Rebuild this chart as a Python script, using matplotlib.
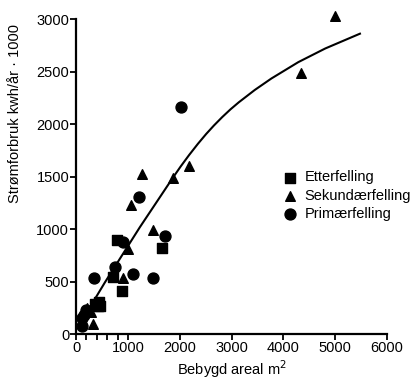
import matplotlib
matplotlib.use('Agg')
import matplotlib.pyplot as plt

plt.rcParams['font.family'] = ['Liberation Sans', 'DejaVu Sans']

# data
etter_x = [780, 1660, 715, 890, 440, 430, 360, 460]
etter_y = [900, 820, 540, 410, 305, 265, 290, 270]

sek_x = [5000, 4340, 1280, 1865, 2185, 1055, 1480, 1000, 905, 330, 290, 210]
sek_y = [3030, 2485, 1525, 1490, 1600, 1230, 990, 815, 530, 100, 215, 250]

prim_x = [2030, 1210, 1720, 910, 760, 1100, 1480, 350, 120, 120, 150, 200]
prim_y = [2160, 1305, 935, 875, 635, 570, 535, 530, 80, 150, 185, 230]

# hand drawn trend curve
fit_x = [150, 560, 1230, 1860, 2020, 2180, 2350, 2510, 2660, 2820, 2980, 3140,
         3450, 3770, 4290, 4810, 5480]
fit_y = [160, 496, 1018, 1484, 1598, 1705, 1812, 1906, 1987, 2067, 2141, 2208,
         2326, 2435, 2591, 2721, 2862]

labels = ['Etterfelling', 'Sekundærfelling', 'Primærfelling']

fig = plt.figure(figsize=(4.16, 3.84), dpi=100)
ax = fig.add_axes([0.183, 0.130, 0.747, 0.820])

ax.plot(fit_x, fit_y, color='black', lw=1.5, zorder=2, solid_joinstyle='round')
ax.scatter(etter_x, etter_y, marker='s', s=42, color='black', label=labels[0], zorder=3, clip_on=False)
ax.scatter(sek_x, sek_y, marker='^', s=48, color='black', label=labels[1], zorder=3, clip_on=False)
ax.scatter(prim_x, prim_y, marker='o', s=62, color='black', label=labels[2], zorder=3, clip_on=False)

ax.set_xlim(0, 6000)
ax.set_ylim(0, 3000)
ax.set_xticks(range(0, 7000, 1000))
ax.set_xticks([200, 400, 600, 800], minor=True)
ax.set_yticks(range(0, 3500, 500))

for s in ['top', 'right']:
    ax.spines[s].set_visible(False)
for s in ['left', 'bottom']:
    ax.spines[s].set_linewidth(1.6)
ax.tick_params(which='both', direction='out', length=4, width=1.3, labelsize=10.5, pad=1)

ax.set_xlabel('Bebygd areal m$^2$', fontsize=10.5, labelpad=2)
ax.set_ylabel('Strømforbruk kwh/år · 1000', fontsize=10.5)
ax.yaxis.set_label_coords(-0.175, 0.70)

ax.legend(loc='upper left', bbox_to_anchor=(0.665, 0.52), frameon=False, fontsize=10.5,
          borderpad=0, handlelength=1, handletextpad=0.5, labelspacing=0.3,
          borderaxespad=0, scatterpoints=1)

fig.savefig('out.png', dpi=100)
